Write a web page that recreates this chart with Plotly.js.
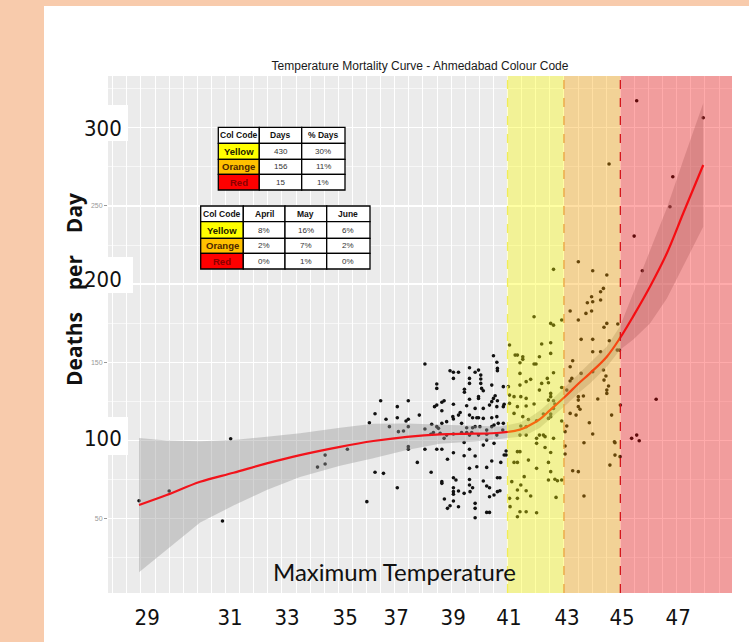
<!DOCTYPE html>
<html>
<head>
<meta charset="utf-8">
<script src="https://cdn.plot.ly/plotly-3.0.1.min.js"></script>
<style>
  html, body { margin:0; padding:0; background:#f8cbac; width:749px; height:642px; overflow:hidden; }
  #chart { position:absolute; left:44px; top:6px; width:705px; height:636px; }
</style>
</head>
<body>
<div id="chart"></div>
<script>
// ---------------- DATA ----------------
const tempLeft   = [27.93, 29.0, 31.18, 30.89, 34.26, 34.53, 34.53];
const deathsLeft = [61.3, 67.5, 101.0, 48.3, 82.8, 90.5, 84.8];

const tempMid = [38.07,38.96,39.08,39.26,39.08,39.65,39.65,39.65,39.85,39.97,40.05,40.05,40.05,40.62,40.64,40.64,40.50,
  38.49,38.49,39.47,39.47,40.08,40.14,40.44,40.85,39.65,39.97,39.97,40.50,40.56,40.64,40.44,40.36,40.62,40.85,40.88,
  36.50,37.48,37.09,36.30,37.09,36.69,36.10,37.40,37.48,37.87,
  38.41,38.49,38.67,38.75,38.67,39.08,39.55,39.85,40.14,39.32,39.65,39.76,39.91,39.97,40.14,40.44,40.62,
  39.06,39.08,39.26,38.84,38.67,38.49,38.31,38.07,38.28,38.37,38.55,39.37,39.55,39.76,39.85,40.02,40.26,40.44,40.52,40.67,40.85,
  36.81,37.13,37.31,37.48,38.61,38.84,39.08,39.37,39.55,39.73,39.97,40.26,40.62,40.83,
  37.48,37.48,38.07,38.49,38.67,38.75,39.08,39.46,39.65,39.65,40.14,40.26,40.52,40.95,40.88,40.95,
  35.32,37.80,38.87,39.46,39.85,39.91,39.65,40.26,40.44,40.76,
  36.30,36.60,37.09,36.01,
  38.29,38.67,38.67,39.08,39.17,39.65,39.65,39.76,40.14,40.26,40.36,40.64,40.73,40.64,40.73,40.52,40.36,
  39.08,39.08,39.08,39.26,39.46,39.67,
  38.76,38.96,38.87,39.08,39.26,39.85,39.85,40.26,40.36,39.85];
const deathsMid = [148.8,144.5,143.5,143.5,139.6,146.4,139.6,136.4,143.5,144.9,141.7,139.2,136.4,149.9,146.0,144.5,154.1,
  136.0,133.2,132.6,130.7,133.2,131.7,135.3,134.3,126.2,127.9,126.8,126.8,128.5,125.3,124.7,122.5,121.5,121.5,123.0,
  125.3,125.3,121.5,117.0,114.4,113.4,111.2,112.3,113.4,116.1,
  121.5,122.5,124.3,125.3,118.9,123.0,122.1,120.4,120.4,117.8,116.1,114.4,114.4,114.4,114.0,114.4,115.1,
  115.1,113.6,116.1,111.9,110.8,108.7,110.2,107.2,103.8,105.0,107.6,110.8,108.0,108.0,108.7,108.7,106.5,108.7,109.7,110.8,110.8,
  108.7,105.5,105.9,108.7,104.4,103.3,104.0,105.0,105.0,105.0,103.3,103.8,103.3,106.5,
  95.9,94.2,94.2,94.2,94.2,101.2,92.0,98.6,94.2,103.3,96.9,100.1,98.0,93.1,90.6,90.6,
  94.2,85.8,87.8,90.1,89.9,83.0,82.0,82.6,86.7,85.8,
  79.5,78.8,69.6,60.7,
  79.5,73.5,72.4,76.0,74.5,74.9,71.3,69.6,73.9,70.7,69.6,76.0,76.0,67.1,67.7,64.9,63.8,
  69.6,67.1,65.4,67.5,66.0,67.1,
  62.4,58.1,56.4,61.1,57.4,59.6,56.4,53.8,53.8,50.4];

const tempYellow = [42.63,41.94,42.53,42.63,42.92,41.27,41.35,41.54,41.54,42.13,42.21,42.53,42.53,41.94,42.01,41.44,41.44,41.82,41.66,41.44,
  42.21,42.41,42.45,42.63,42.92,42.53,42.53,42.13,41.47,41.66,41.23,41.94,41.66,41.35,42.45,42.63,42.68,42.63,42.27,42.53,
  42.45,42.53,41.23,41.54,41.74,42.03,42.92,41.47,41.66,41.44,41.66,42.13,42.03,42.27,42.33,42.03,42.33,42.63,42.53,41.35,
  41.44,41.23,41.35,41.74,42.03,42.45,42.53,42.68,42.77,42.92,42.45,41.59,41.47,41.15,41.35,41.66,41.82,41.35,42.72,41.44,
  41.66,42.03,41.35,41.07,41.09,41.07,41.07,41.03,41.07];
const deathsYellow = [209.4,179.1,174.8,173.7,177.0,154.5,154.5,153.5,151.8,153.5,161.6,162.4,155.6,148.8,148.8,149.6,142.8,139.0,137.5,135.3,
  136.4,139.6,136.8,143.2,133.8,130.0,127.9,132.1,127.9,126.8,127.9,123.2,121.9,121.5,125.7,125.3,123.2,120.4,116.8,116.8,
  114.0,115.1,117.2,115.1,113.3,112.5,112.3,109.1,108.7,103.3,103.3,103.3,101.2,103.3,102.3,98.0,95.4,101.2,92.2,92.7,
  92.7,85.8,85.8,87.3,82.0,85.8,79.9,75.0,74.1,74.5,74.5,76.7,71.3,73.5,68.1,67.7,64.3,62.8,63.4,54.2,
  54.2,53.6,51.0,62.8,57.5,161.0,128.9,134.3,123.6];

const tempOrange = [43.51,44.02,44.52,44.40,44.30,43.98,43.83,44.02,44.30,43.98,43.78,43.22,43.51,44.52,44.42,44.91,43.61,44.02,44.61,44.02,
  44.30,44.89,43.31,43.22,43.61,43.28,43.22,44.02,44.40,44.49,44.42,44.58,44.52,44.52,43.10,43.51,44.20,43.69,43.51,43.51,
  43.57,43.43,43.22,44.69,43.90,43.10,44.02,44.81,43.71,44.63,44.81,43.31,43.51,43.71,43.04,43.04,43.04,44.99,44.97,
  44.60,45.0,44.79];
const deathsOrange = [214.3,208.5,205.8,197.2,195.1,191.9,188.0,188.7,189.8,182.7,181.2,182.7,177.0,174.8,172.3,174.4,164.6,164.6,163.7,156.7,
  156.7,157.7,150.9,147.1,142.8,139.6,137.9,143.9,145.0,141.1,138.5,134.7,132.1,130.0,132.1,127.9,126.4,128.3,125.7,121.5,
  119.8,116.1,117.2,116.1,111.2,109.1,104.0,98.4,98.4,84.1,90.5,80.5,79.9,64.3,96.3,91.2,105.5,89.5,157.7,
  276.9,122.5,99.0];

const tempRed   = [45.58, 47.94, 46.86, 46.76, 45.49, 45.78, 46.27, 45.40, 45.58, 45.67];
const deathsRed = [317.4, 306.5, 268.7, 249.5, 230.7, 208.5, 126.2, 101.2, 103.3, 99.7];

// loess fit and its confidence band
const fitTemp   = [27.93,28.91,30.10,31.28,32.46,33.64,35.06,36.24,37.43,38.60,39.79,40.73,41.44,41.80,42.15,42.51,43.10,43.50,43.93,44.52,44.99,45.46,46.05,46.65,47.23,47.94];
const fitDeaths = [58.5,64.9,73.4,79.2,85.2,90.5,95.8,99.5,102.2,103.8,104.2,104.8,106.8,109.7,113.5,119.3,129.0,136.0,143.0,153.5,165.5,179.5,198.3,219.7,245.3,276.2];
const fitUpper  = [101.5,99.9,99.4,100.2,102.2,104.5,108.0,110.5,110.7,109.8,109.2,108.8,111.3,114.7,119.0,124.8,135.0,142.0,149.5,160.0,173.0,194.5,221.8,248.7,279.3,315.7];
const fitLower  = [15.5,29.9,47.4,58.2,68.2,76.5,83.6,88.5,93.7,97.8,99.2,100.8,102.3,104.7,108.0,113.8,123.0,130.0,136.5,147.0,158.0,164.5,174.8,190.7,211.3,236.7];

// colour-code thresholds
const zoneStarts = [41, 43, 45];

// axis labels shown on the picture
const xTickVals = [28.22, 31.16, 33.18, 35.24, 37.05, 39.07, 41.05, 43.11, 45.06, 47.05];
const xTickText = ['29','31','33','35','37','39','41','43','45','47'];
const ySmallTicks = [50, 150, 250];
const yBigLabels = ['300','200','100'];

// tables
const t1Header = ['Col Code','Days','% Days'];
const t1Codes  = ['Yellow','Orange','Red'];
const t1Days   = ['430','156','15'];
const t1Pct    = ['30%','11%','1%'];
const t2Header = ['Col Code','April','May','June'];
const t2April  = ['8%','2%','0%'];
const t2May    = ['16%','7%','1%'];
const t2June   = ['6%','2%','0%'];

// ---------------- HELPERS ----------------
const PL = 108, PR = 732, PT = 76, PB = 593;   // page pixel bounds of the plot area
const pxX = p => (p - PL) / (PR - PL);
const pxY = p => (PB - p) / (PB - PT);
const COND = "'DejaVu Sans Condensed', 'Liberation Sans', Arial, sans-serif";
const ARIAL = "'Liberation Sans', Arial, sans-serif";

const allTemp = [].concat(tempLeft, tempMid, tempYellow, tempOrange, tempRed);
const allDeaths = [].concat(deathsLeft, deathsMid, deathsYellow, deathsOrange, deathsRed);

const xMax = 48.96, yRange = [2.2, 333.2];

const traces = [
  { type:'scatter', mode:'markers', x: allTemp, y: allDeaths,
    marker:{ size:3.6, color:'#111111' }, hoverinfo:'skip' },
  { type:'scatter', mode:'lines', x: fitTemp, y: fitLower, line:{ width:0 }, hoverinfo:'skip' },
  { type:'scatter', mode:'lines', x: fitTemp, y: fitUpper, line:{ width:0 }, fill:'tonexty',
    fillcolor:'rgba(153,153,153,0.42)', hoverinfo:'skip' },
  { type:'scatter', mode:'lines', x: fitTemp, y: fitDeaths, line:{ color:'#f2131b', width:2.2, shape:'spline' }, hoverinfo:'skip' },
  // invisible carriers for the label axes
  { type:'scatter', mode:'markers', x:[30], y:[100], xaxis:'x2', yaxis:'y', marker:{ opacity:0 }, hoverinfo:'skip' },
  { type:'scatter', mode:'markers', x:[30], y:[100], xaxis:'x', yaxis:'y2', marker:{ opacity:0 }, hoverinfo:'skip' }
];

const shapes = [];
const annotations = [];

// zones
const zoneFill = ['rgba(255,255,0,0.36)','rgba(255,165,0,0.36)','rgba(255,0,0,0.33)'];
const zoneLine = ['#f2ee55','#e9a23c','#d4151b'];
zoneStarts.forEach((z, i) => {
  const x1 = i < zoneStarts.length - 1 ? zoneStarts[i+1] : xMax;
  shapes.push({ type:'rect', xref:'x', yref:'paper', x0:z, x1:x1, y0:0, y1:1,
    fillcolor: zoneFill[i], line:{ width:0 }, layer:'above' });
});
zoneStarts.forEach((z, i) => {
  shapes.push({ type:'line', xref:'x', yref:'paper', x0:z, x1:z, y0:0, y1:1,
    line:{ color: zoneLine[i], width:1.3, dash:'dash' }, layer:'above' });
});

// white boxes with big y labels
const yBoxes = [[105,141,128,129],[257,293,133,279],[417,455,128,438]];
yBigLabels.forEach((t, i) => {
  const b = yBoxes[i];
  shapes.push({ type:'rect', xref:'paper', yref:'paper', x0:pxX(86), x1:pxX(b[2]), y0:pxY(b[1]), y1:pxY(b[0]),
    fillcolor:'white', line:{ width:0 }, layer:'above' });
  annotations.push({ xref:'paper', yref:'paper', x:pxX(103), y:pxY(b[3]), text:t, showarrow:false,
    xanchor:'center', yanchor:'middle', font:{ family:COND, size:22, color:'#111' } });
});

// tables
function drawTable(colsPx, rowsPx, header, columns) {
  const codeFill = ['#ffff00','#ffc000','#ff0000'];
  const codeText = ['#222200','#4a2600','#8a0000'];
  for (let r = 0; r < rowsPx.length - 1; r++) {
    for (let c = 0; c < colsPx.length - 1; c++) {
      let fill = 'white';
      if (r > 0 && c === 0) fill = codeFill[r-1];
      shapes.push({ type:'rect', xref:'paper', yref:'paper',
        x0:pxX(colsPx[c]), x1:pxX(colsPx[c+1]), y0:pxY(rowsPx[r+1]), y1:pxY(rowsPx[r]),
        fillcolor:fill, line:{ color:'#000', width:1.3 }, layer:'above' });
      let text, font;
      if (r === 0) { text = '<b>' + header[c] + '</b>'; font = { family:ARIAL, size:8.5, color:'#111' }; }
      else if (c === 0) { text = '<b>' + columns[0][r-1] + '</b>'; font = { family:ARIAL, size:9.5, color:codeText[r-1] }; }
      else { text = columns[c][r-1]; font = { family:ARIAL, size:8, color:'#333' }; }
      annotations.push({ xref:'paper', yref:'paper',
        x:pxX((colsPx[c] + colsPx[c+1]) / 2), y:pxY((rowsPx[r] + rowsPx[r+1]) / 2),
        text:text, showarrow:false, xanchor:'center', yanchor:'middle', font:font });
    }
  }
}
drawTable([218.3, 259.3, 301.7, 345], [127.3, 143.3, 159.3, 174.3, 190], t1Header, [t1Codes, t1Days, t1Pct]);
drawTable([200.7, 243.3, 285, 326.7, 370], [206, 221.7, 238.3, 253.3, 269], t2Header, [t1Codes, t2April, t2May, t2June]);

// axis titles drawn over the plot
const NB = '\u00a0\u00a0\u00a0\u00a0';
annotations.push({ xref:'paper', yref:'paper', x:pxX(74), y:pxY(290), text:'<b>Deaths' + NB + 'per' + NB + 'Day</b>',
  textangle:-90, showarrow:false, xanchor:'center', yanchor:'middle',
  font:{ family:"'Open Sans', 'DejaVu Sans', sans-serif", size:21, color:'#111' } });
annotations.push({ xref:'paper', yref:'paper', x:pxX(394), y:pxY(571), text:'Maximum Temperature',
  showarrow:false, xanchor:'center', yanchor:'middle', font:{ family:"Lato, 'Liberation Sans', sans-serif", size:24, color:'#111' } });

const layout = {
  width:705, height:636,
  margin:{ l:64, r:17, t:70, b:49 },
  paper_bgcolor:'white', plot_bgcolor:'#ebebeb',
  showlegend:false,
  title:{ text:'Temperature Mortality Curve - Ahmedabad Colour Code',
    font:{ family:ARIAL, size:12, color:'#1a1a1a' },
    x:0.5, xref:'paper', xanchor:'center', y:1 - (66 - 6) / 636, yref:'container', yanchor:'middle' },
  xaxis:{ range:[26.83, xMax], showticklabels:false, ticks:'', tick0:0, dtick:0.5,
    showgrid:true, gridcolor:'#ffffff', gridwidth:1, zeroline:false, showline:false, fixedrange:true },
  xaxis2:{ overlaying:'x', side:'bottom', anchor:'y', range:[26.83, xMax], tickmode:'array',
    tickvals:xTickVals, ticktext:xTickText, ticks:'', showgrid:false, zeroline:false, showline:false,
    tickfont:{ family:COND, size:22, color:'#111' }, ticklabelstandoff:9, fixedrange:true },
  yaxis:{ range:yRange, tick0:0, dtick:50, showgrid:true, gridcolor:'#ffffff', gridwidth:1.2,
    zeroline:false, showline:false, ticks:'', showticklabels:false,
    minor:{ dtick:25, tick0:0, showgrid:true, gridcolor:'#ffffff', gridwidth:0.6, ticks:'' },
    fixedrange:true },
  yaxis2:{ overlaying:'y', side:'left', anchor:'x', range:yRange, tickmode:'array', tickvals:ySmallTicks,
    showgrid:false, zeroline:false, showline:false, ticks:'outside', ticklen:3, tickwidth:1, tickcolor:'#999',
    tickfont:{ family:ARIAL, size:7, color:'#999' }, fixedrange:true },
  shapes:shapes,
  annotations:annotations
};

Plotly.newPlot('chart', traces, layout, { staticPlot:true, displayModeBar:false });
</script>
</body>
</html>
